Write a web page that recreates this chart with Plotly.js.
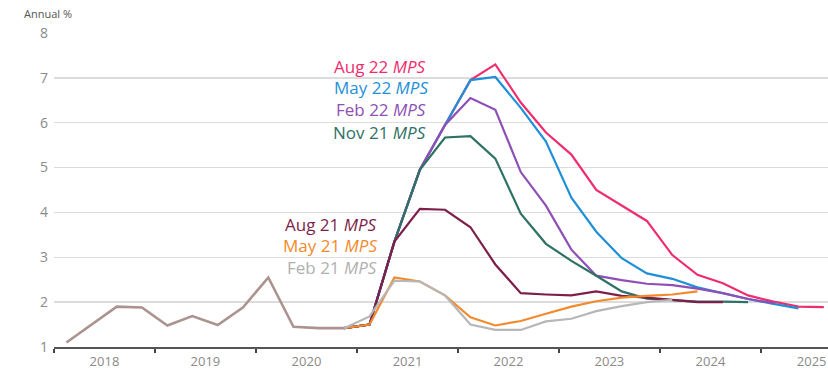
<!DOCTYPE html>
<html>
<head>
<meta charset="utf-8">
<script src="https://cdn.plot.ly/plotly-3.0.1.min.js"></script>
<style>
  html, body { margin: 0; padding: 0; background: #fff; }
  #chart { width: 828px; height: 371px; }
</style>
</head>
<body>
<div id="chart"></div>
<script>
// Quarters shown on the chart
const quarters = [
  '2018Q1','2018Q2','2018Q3','2018Q4',
  '2019Q1','2019Q2','2019Q3','2019Q4',
  '2020Q1','2020Q2','2020Q3','2020Q4',
  '2021Q1','2021Q2','2021Q3','2021Q4',
  '2022Q1','2022Q2','2022Q3','2022Q4',
  '2023Q1','2023Q2','2023Q3','2023Q4',
  '2024Q1','2024Q2','2024Q3','2024Q4',
  '2025Q1','2025Q2','2025Q3'
];

// Actual annual CPI inflation (%), 2018Q1 - 2022Q2
const actualCPI = [1.1, 1.5, 1.9, 1.88, 1.48, 1.69, 1.49, 1.88, 2.55, 1.45, 1.42, 1.42,
                   1.5, 3.35, 4.95, 5.95, 6.95, 7.3];

// Quarter of the last actual value known to each MPS
const lastActualQuarter = {
  feb21: '2020Q4', may21: '2021Q1', aug21: '2021Q2', nov21: '2021Q3',
  feb22: '2021Q4', may22: '2022Q1', aug22: '2022Q2'
};

// Projections (start the quarter after the last actual)
const feb21 = [1.68, 2.48, 2.46, 2.15, 1.5, 1.38, 1.38, 1.57, 1.63, 1.8, 1.91, 2.0, 2.05];
const may21 = [2.55, 2.46, 2.15, 1.66, 1.48, 1.58, 1.74, 1.9, 2.02, 2.1, 2.14, 2.17, 2.24];
const aug21 = [4.08, 4.06, 3.67, 2.84, 2.2, 2.17, 2.15, 2.24, 2.14, 2.1, 2.05, 2.0, 2.0];
const nov21 = [5.67, 5.7, 5.2, 3.97, 3.3, 2.92, 2.59, 2.24, 2.08, 2.04, 2.01, 2.01, 2.0];
const feb22 = [6.55, 6.29, 4.9, 4.15, 3.17, 2.59, 2.49, 2.41, 2.38, 2.3, 2.2, 2.07, 1.98];
const may22 = [7.02, 6.33, 5.58, 4.33, 3.57, 2.98, 2.64, 2.52, 2.33, 2.2, 2.07, 1.96, 1.86];
const aug22 = [6.45, 5.78, 5.29, 4.5, 4.16, 3.81, 3.05, 2.61, 2.42, 2.15, 2.01, 1.9, 1.89];

const seriesNames = ['Aug 22', 'May 22', 'Feb 22', 'Nov 21', 'Aug 21', 'May 21', 'Feb 21'];
const seriesKeys  = ['aug22', 'may22', 'feb22', 'nov21', 'aug21', 'may21', 'feb21'];
const seriesData  = {feb21, may21, aug21, nov21, feb22, may22, aug22};
const seriesColors = ['#ef2d6e', '#1f90d8', '#8e4fb6', '#2e7165', '#7e1f4a', '#f28a2c', '#b7b7b7'];
const labelColors  = ['#ef2d6e', '#1f90d8', '#8e4fb6', '#2e7165', '#7e1f4a', '#f28a2c', '#b0b0b0'];
const historyColor = '#ab948f';

// Label placement (y in data units, right edge in paper units)
const labelY = [7.26, 6.78, 6.29, 5.78, 3.74, 3.27, 2.77];
const labelX = [0.4835, 0.4855, 0.4835, 0.4835, 0.4195, 0.4195, 0.4195];

function qDate(q) {
  const y = q.slice(0, 4), n = +q.slice(5);
  return y + ['-02-15', '-05-16', '-08-16', '-11-15'][n - 1];
}

const commonEnd = quarters.indexOf('2020Q4');
const traces = [];
seriesKeys.forEach((k, i) => {
  const la = quarters.indexOf(lastActualQuarter[k]);
  const ys = actualCPI.slice(commonEnd, la + 1).concat(seriesData[k]);
  const xs = quarters.slice(commonEnd, commonEnd + ys.length).map(qDate);
  traces.push({
    x: xs, y: ys, type: 'scatter', mode: 'lines', name: seriesNames[i] + ' MPS',
    line: {color: seriesColors[i], width: 2.2}, hoverinfo: 'skip'
  });
});
traces.push({
  x: quarters.slice(0, commonEnd + 1).map(qDate),
  y: actualCPI.slice(0, commonEnd + 1),
  type: 'scatter', mode: 'lines', name: 'History',
  line: {color: historyColor, width: 2.6}, hoverinfo: 'skip'
});

const font = '"Open Sans", "Noto Sans", sans-serif';
const annotations = seriesNames.map((n, i) => ({
  xref: 'paper', yref: 'y', x: labelX[i], y: labelY[i],
  xanchor: 'right', yanchor: 'middle', showarrow: false,
  text: n + ' <i>MPS</i>',
  font: {family: font, size: 17, color: labelColors[i]}
}));
annotations.push({
  xref: 'paper', yref: 'paper', x: -0.041, y: 1.062, xanchor: 'left', yanchor: 'middle',
  showarrow: false, text: 'Annual %', font: {family: font, size: 11, color: '#555'}
});

const layout = {
  width: 828, height: 371,
  margin: {l: 54, r: 0, t: 33, b: 24},
  paper_bgcolor: '#fff', plot_bgcolor: '#fff',
  showlegend: false,
  font: {family: font},
  xaxis: {
    type: 'date', range: ['2018-01-01', '2025-08-31'],
    tick0: '2018-01-01', dtick: 'M12', ticklabelmode: 'period', tickformat: '%Y',
    ticks: 'outside', ticklen: 4, tickwidth: 2, tickcolor: '#444',
    ticklabelstandoff: -3,
    showline: true, linecolor: '#555', linewidth: 2,
    showgrid: false, zeroline: false,
    tickfont: {family: font, size: 13, color: '#8a8a8a'}
  },
  yaxis: {
    range: [1, 8], dtick: 1, tick0: 1,
    showgrid: true, gridcolor: '#dcdcdc', gridwidth: 1.5,
    showline: false, zeroline: false, ticks: '', ticklabelstandoff: 5,
    tickfont: {family: font, size: 14, color: '#8a8a8a'}
  },
  annotations: annotations
};

Plotly.newPlot('chart', traces, layout, {staticPlot: true, displayModeBar: false});
</script>
</body>
</html>
